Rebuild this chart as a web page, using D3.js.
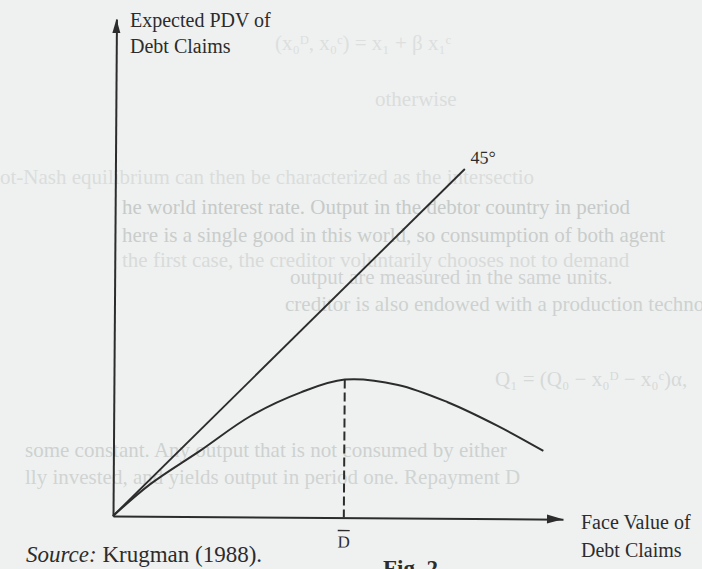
<!DOCTYPE html>
<html>
<head>
<meta charset="utf-8">
<script src="https://cdn.jsdelivr.net/npm/d3@7"></script>
<style>
  html, body { margin: 0; padding: 0; background: #eff1f0; }
  svg { display: block; }
  text { font-family: "Liberation Serif", "Times New Roman", serif; }
</style>
</head>
<body>
<div id="chart"></div>
<script>
// Debt Laffer curve (Krugman 1988), values in axis units
var faceValue   = [0, 1.05, 2.46, 3.88, 5.30, 6.54, 8.05, 9.46, 10.88, 12.18];
var expectedPDV = [0, 0.91, 1.87, 2.86, 3.54, 3.91, 3.77, 3.29, 2.63, 1.93];
var diagonal = [0, 9.9];    // 45 degree line, from / to
var dBar = 6.54;            // face value where the curve tops out
var xMax = 12.75, yMax = 14.08;

var yLabel = ["Expected PDV of", "Debt Claims"];
var xLabel = ["Face Value of", "Debt Claims"];

// text from the other side of the page showing through the scan
var bleedText = [
  "(x\u2080\u1D30, x\u2080\u1D9C) = x\u2081 + \u03B2 x\u2081\u1D9C",
  "otherwise",
  "ot-Nash equilibrium can then be characterized as the intersectio",
  "he world interest rate.  Output in the debtor country in period",
  "here is a single good in this world, so consumption of both agent",
  "the first case, the creditor voluntarily chooses not to demand",
  "output are measured in the same units.",
  "creditor is also endowed with a production technology of the form,",
  "Q\u2081 = (Q\u2080 \u2212 x\u2080\u1D30 \u2212 x\u2080\u1D9C)\u03B1,",
  "some constant.   Any output that is not consumed by either",
  "lly invested, and yields output in period one.  Repayment D"
];
var bleedPos = [[275, 50, "#dcdfde"], [375, 106, "#dadddc"], [0, 184, "#dadddc"],
                [122, 214, "#c6cac9"], [122, 242, "#c9cdcc"], [122, 267, "#d8dbda"],
                [290, 284, "#cfd2d2"], [285, 311, "#cdd1d0"], [495, 386, "#d6d9d8"],
                [25, 457, "#cdd1d0"], [25, 484, "#d0d4d3"]];

var width = 702,
    height = 569;

var svg = d3.select("#chart")
            .append("svg")
             .attr("width", width)
             .attr("height", height);

svg.append("rect").attr("width", width).attr("height", height).attr("fill", "#eff1f0");

// faint show-through
svg.selectAll(".bleed")
   .data(bleedText)
   .enter()
   .append("text")
    .attr("class", "bleed")
    .attr("x", function(d, i) { return bleedPos[i][0]; })
    .attr("y", function(d, i) { return bleedPos[i][1]; })
    .attr("fill", function(d, i) { return bleedPos[i][2]; })
    .attr("font-size", 21)
    .text(function(d) { return d; });

// Scales
var scaleX = d3.scaleLinear().domain([0, xMax]).range([113, 563]);
var scaleY = d3.scaleLinear().domain([0, yMax]).range([516, 19]);

var ink = "#2c2c2c";

// the scan is a little tilted
var g = svg.append("g")
           .attr("transform", "rotate(0.4," + scaleX(0) + "," + scaleY(0) + ")");

// Axes
g.append("g")
  .attr("transform", "translate(0," + scaleY(0) + ")")
  .call(d3.axisBottom(scaleX).tickValues([]).tickSizeOuter(0));
g.append("g")
  .attr("transform", "translate(" + scaleX(0) + ",0)")
  .call(d3.axisLeft(scaleY).tickValues([]).tickSizeOuter(0));
g.selectAll(".domain").attr("stroke", ink).attr("stroke-width", 2);

// arrow heads
g.append("path")
  .attr("d", "M" + scaleX(xMax) + "," + scaleY(0) + "l-16,-4.5v9z")
  .attr("fill", ink);
g.append("path")
  .attr("d", "M" + scaleX(0) + "," + scaleY(yMax) + "l-4,14h8z")
  .attr("fill", ink);

// 45 degree line
g.append("line")
  .attr("x1", scaleX(diagonal[0])).attr("y1", scaleY(diagonal[0]))
  .attr("x2", scaleX(diagonal[1])).attr("y2", scaleY(diagonal[1]))
  .attr("stroke", ink).attr("stroke-width", 1.9);

// expected value curve
var line = d3.line()
             .x(function(d) { return scaleX(d[0]); })
             .y(function(d) { return scaleY(d[1]); })
             .curve(d3.curveCatmullRom.alpha(0.5));

g.append("path")
  .datum(d3.zip(faceValue, expectedPDV))
  .attr("d", line)
  .attr("fill", "none")
  .attr("stroke", ink)
  .attr("stroke-width", 2);

// dashed drop line at D-bar
g.append("line")
  .attr("x1", scaleX(dBar)).attr("y1", scaleY(d3.max(expectedPDV)))
  .attr("x2", scaleX(dBar)).attr("y2", scaleY(0))
  .attr("stroke", ink).attr("stroke-width", 2)
  .attr("stroke-dasharray", "9,4");

// D-bar label
g.append("text")
  .attr("x", scaleX(dBar)).attr("y", 546)
  .attr("text-anchor", "middle")
  .attr("font-size", 17).attr("fill", ink)
  .text("D");
g.append("line")
  .attr("x1", scaleX(dBar) - 6).attr("x2", scaleX(dBar) + 6)
  .attr("y1", 529).attr("y2", 529)
  .attr("stroke", ink).attr("stroke-width", 1.4);

// 45 degree label
g.append("text")
  .attr("x", 468).attr("y", 161)
  .attr("font-size", 18).attr("fill", ink)
  .text("45°");

// axis titles
svg.selectAll(".ylab")
   .data(yLabel)
   .enter()
   .append("text")
    .attr("class", "ylab")
    .attr("x", 130)
    .attr("y", function(d, i) { return 27 + i * 26; })
    .attr("font-size", 20).attr("fill", ink)
    .text(function(d) { return d; });

svg.selectAll(".xlab")
   .data(xLabel)
   .enter()
   .append("text")
    .attr("class", "xlab")
    .attr("x", 581)
    .attr("y", function(d, i) { return 529 + i * 28; })
    .attr("font-size", 20).attr("fill", ink)
    .text(function(d) { return d; });

// source note and caption
var src = svg.append("text")
             .attr("x", 26).attr("y", 562)
             .attr("font-size", 23).attr("fill", ink);
src.append("tspan").attr("font-style", "italic").text("Source:");
src.append("tspan").text(" Krugman (1988).");

svg.append("text")
   .attr("x", 383).attr("y", 576)
   .attr("font-size", 23).attr("font-weight", "bold").attr("fill", ink)
   .text("Fig. 2");
</script>
</body>
</html>
